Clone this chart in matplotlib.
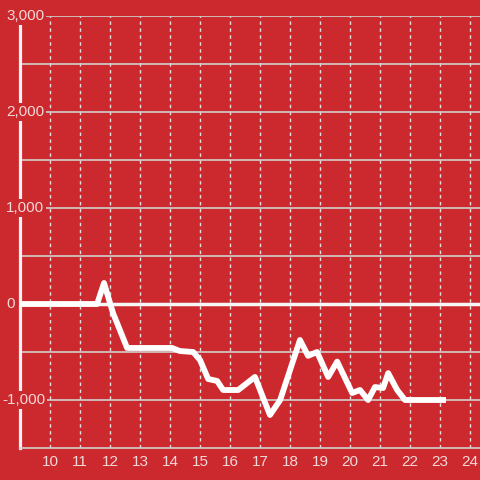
import matplotlib
matplotlib.use("Agg")
import matplotlib.pyplot as plt
from matplotlib.transforms import blended_transform_factory

# values
hours = [9, 11.57, 11.8, 12.1, 12.57, 14.07, 14.33, 14.77, 15.0, 15.27, 15.57, 15.77,
         16.27, 16.83, 17.33, 17.67, 18.33, 18.6, 18.9, 19.27, 19.57, 20.07,
         20.33, 20.6, 20.83, 21.1, 21.27, 21.57, 21.83, 23.1]
values = [0, 0, 219, -94, -458, -458, -490, -500, -583, -781, -802, -896,
          -896, -760, -1156, -1000, -375, -540, -500, -760, -600, -927,
          -896, -1000, -865, -875, -720, -896, -1000, -1000]
x_ticks = list(range(10, 25))
y_ticks = [-1000, 0, 1000, 2000, 3000]
y_grid = [-1000, -500, 500, 1000, 1500, 2000, 2500, 3000]

bg = "#cc292e"
label_col = "#f2d8d8"
fig = plt.figure(figsize=(4.8, 4.8), dpi=100, facecolor=bg)
ax = fig.add_axes([20 / 480, 32 / 480, 460 / 480, 432 / 480])
ax.set_facecolor(bg)
ax.set_xlim(9, 24.33)
ax.set_ylim(-1500, 3000)

for x in x_ticks:
    ax.axvline(x, color="#e0e0e0", lw=1, ls=(0, (2.5, 2.5)), zorder=1)
for y in y_grid:
    ax.axhline(y, color="#d0d0d0", lw=1.2, zorder=1)
ax.axhline(0, color="#f6f6f6", lw=2.5, zorder=2)

ax.plot(hours, values, color="white", lw=4.2, solid_joinstyle="round", zorder=3)

for s in ["top", "right"]:
    ax.spines[s].set_visible(False)
ax.spines["left"].set_color("#f4f4f4")
ax.spines["left"].set_linewidth(2.3)
ax.spines["bottom"].set_color("#d0d0d0")
ax.spines["bottom"].set_linewidth(1.2)

ax.set_xticks(x_ticks)
ax.set_xticklabels([str(x) for x in x_ticks])
ax.tick_params(axis="x", length=0, pad=5, labelsize=11, labelcolor=label_col)
for lab in ax.get_xticklabels():
    lab.set_fontfamily("Liberation Sans")
ax.set_yticks([])

tr = blended_transform_factory(fig.transFigure, ax.transData)
for y in y_ticks:
    xpos = 2 / 480 if y < 0 else 6 / 480
    ax.text(xpos, y, f"{y:,}", ha="left", va="center", fontsize=11,
            color=label_col, family="Liberation Sans", zorder=5, transform=tr,
            bbox=dict(facecolor=bg, edgecolor="none", pad=1.5))

fig.savefig("out.png", dpi=100, facecolor=bg)
